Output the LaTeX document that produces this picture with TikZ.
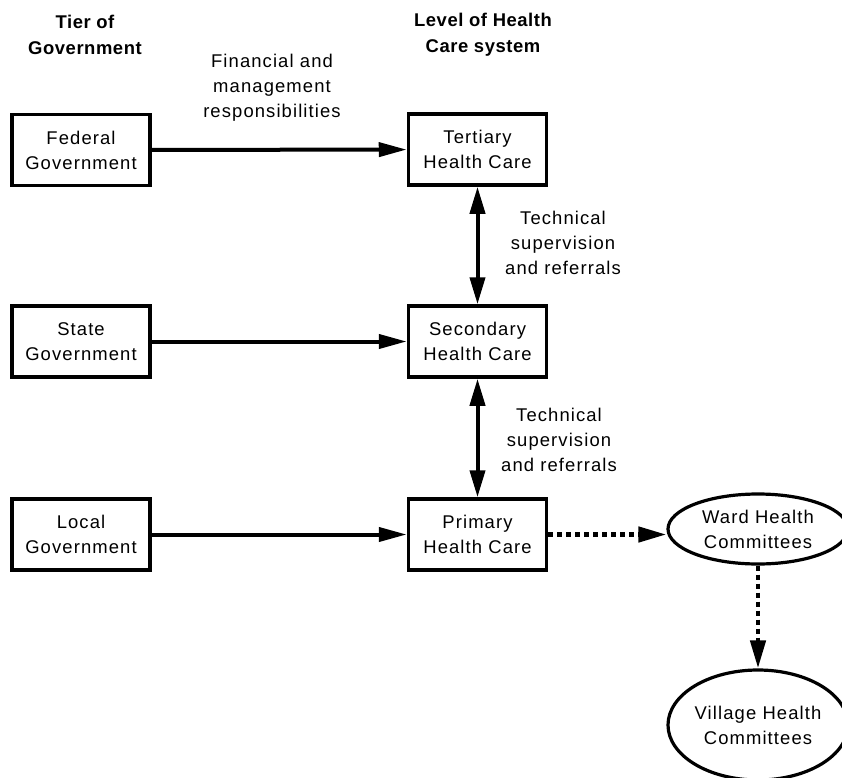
\documentclass[tikz,border=0pt]{standalone}
\usepackage{fontspec}
\setmainfont{Liberation Sans}[LetterSpace=6]
\newfontfamily\headfont{Liberation Sans}[LetterSpace=3]
\usetikzlibrary{arrows.meta,shapes.geometric}
\begin{document}
\begin{tikzpicture}[x=1bp,y=-1bp,
  every node/.style={font=\fontsize{18.5}{25}\selectfont, align=center},
  box/.style={draw, line width=3.5bp, minimum width=138bp, minimum height=71bp, inner sep=0pt},
  oval/.style={draw, ellipse, line width=3.2bp, minimum width=180bp, inner sep=0pt},
  head/.style={font=\headfont\bfseries\fontsize{18.5}{26}\selectfont},
  lbl/.style={},
  conn/.style={line width=4bp, -{Triangle[length=28bp,width=14bp]}},
  biconn/.style={line width=4bp, {Triangle[length=27bp,width=15bp]}-{Triangle[length=27bp,width=15bp]}},
  dotconn/.style={line width=4.5bp, dash pattern=on 5bp off 4bp, -{Triangle[length=28bp,width=15bp]}}
]
\useasboundingbox (0,0) rectangle (842,778);
\node[head] (h1) at (85,35) {Tier of\\Government};
\node[head] (h2) at (483,35) {Level of Health\\Care system};
\node[box] (fed) at (81,150) {Federal\\Government};
\node[box] (sta) at (81,341.5) {State\\Government};
\node[box] (loc) at (81,534.5) {Local\\Government};
\node[box] (ter) at (477.5,149.5) {Tertiary\\Health Care};
\node[box] (sec) at (477.5,341.5) {Secondary\\Health Care};
\node[box] (pri) at (477.5,534.5) {Primary\\Health Care};
\node[oval, minimum height=70bp] (ward) at (758,529) {Ward Health\\Committees};
\node[oval, minimum height=110bp] (vil) at (758,725) {Village Health\\Committees};
\node[lbl] (l1) at (272,88) {Financial and\\management\\responsibilities};
\node[lbl] (l2) at (563,243) {Technical\\supervision\\and referrals};
\node[lbl] (l3) at (559,440) {Technical\\supervision\\and referrals};
\draw[conn] (fed) -- (ter);
\draw[conn] (sta) -- (sec);
\draw[conn] (loc) -- (pri);
\draw[biconn] (ter) -- (sec);
\draw[biconn] (sec) -- (pri);
\draw[dotconn] (pri.east) -- (pri.east -| ward.west);
\draw[dotconn] (ward) -- (vil);
\end{tikzpicture}
\end{document}
